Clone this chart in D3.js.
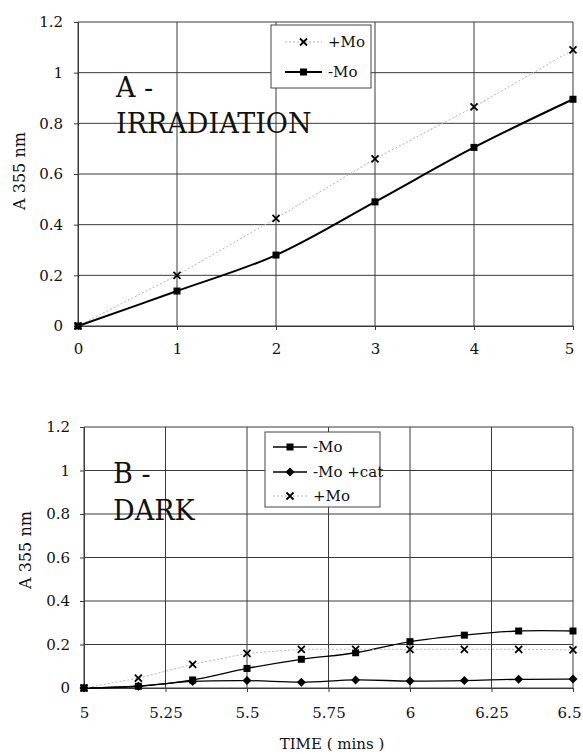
<!DOCTYPE html>
<html>
<head>
<meta charset="utf-8">
<script src="https://cdn.jsdelivr.net/npm/d3@7"></script>
<style>
  html, body { margin: 0; padding: 0; background: #fff; }
</style>
</head>
<body>
<svg id="chart" width="583" height="754"></svg>
<script>
// ---- Data ----
const topTimes = [0, 1, 2, 3, 4, 5];
const topPlusMo = [0, 0.2, 0.425, 0.66, 0.865, 1.09];
const topMinusMo = [0, 0.138, 0.28, 0.49, 0.705, 0.895];

const darkTimes = [5, 5.1667, 5.3333, 5.5, 5.6667, 5.8333, 6, 6.1667, 6.3333, 6.5];
const darkMinusMo = [0, 0.008, 0.037, 0.09, 0.132, 0.162, 0.213, 0.243, 0.262, 0.262];
const darkMinusMoCat = [0, 0.008, 0.03, 0.034, 0.027, 0.037, 0.032, 0.034, 0.04, 0.041];
const darkPlusMo = [0, 0.045, 0.109, 0.159, 0.178, 0.178, 0.178, 0.178, 0.178, 0.175];

const yTicks = [0, 0.2, 0.4, 0.6, 0.8, 1, 1.2];
const topXTicks = [0, 1, 2, 3, 4, 5];
const darkXTicks = [5, 5.25, 5.5, 5.75, 6, 6.25, 6.5];
const darkXTickLabels = ["5", "5.25", "5.5", "5.75", "6", "6.25", "6.5"];

const yLabel = "A 355 nm";
const xLabel = "TIME ( mins )";

const FONT = "DejaVu Serif";
const svg = d3.select("#chart").attr("font-family", FONT);
const GRID = "#3a3a3a";

function txt(sel) { return sel.attr("font-family", FONT).attr("fill", "#111"); }

function drawPanel(cfg) {
  const g = svg.append("g");
  const x = d3.scaleLinear().domain(cfg.xDomain).range(cfg.xRange);
  const y = d3.scaleLinear().domain([0, 1.2]).range(cfg.yRange);

  // grid
  g.append("g").selectAll("line").data(yTicks).join("line")
    .attr("x1", cfg.xRange[0]).attr("x2", cfg.xRange[1])
    .attr("y1", d => y(d)).attr("y2", d => y(d))
    .attr("stroke", GRID).attr("stroke-width", 1);
  g.append("g").selectAll("line").data(cfg.xTicks).join("line")
    .attr("x1", d => x(d)).attr("x2", d => x(d))
    .attr("y1", cfg.yRange[0]).attr("y2", cfg.yRange[1])
    .attr("stroke", GRID).attr("stroke-width", 1);

  // axes
  const ya = g.append("g").attr("transform", `translate(${cfg.xRange[0]},0)`)
    .call(d3.axisLeft(y).tickValues(yTicks).tickSize(4).tickPadding(cfg.yPad)
      .tickFormat(d => d3.format("~g")(d)));
  const xa = g.append("g").attr("transform", `translate(0,${cfg.yRange[0]})`)
    .call(d3.axisBottom(x).tickValues(cfg.xTicks).tickSize(4).tickPadding(cfg.xPad)
      .tickFormat((d, i) => cfg.xTickLabels[i]));
  [ya, xa].forEach(a => {
    a.attr("font-family", FONT).attr("font-size", 15);
    a.select(".domain").attr("stroke", GRID);
    a.selectAll(".tick line").attr("stroke", GRID);
    txt(a.selectAll(".tick text")).attr("font-size", 15);
  });
  // keep the last x label inside the page
  xa.selectAll(".tick text").filter((d, i, n) => i === n.length - 1).attr("dx", -4);

  // y label
  txt(g.append("text"))
    .attr("transform", `translate(${cfg.yLabelX},${cfg.yLabelY}) rotate(-90)`)
    .attr("text-anchor", "middle").attr("dominant-baseline", "central")
    .attr("font-size", 16).text(yLabel);

  // title
  cfg.title.forEach((t, i) => {
    txt(g.append("text")).attr("x", cfg.titleX).attr("y", cfg.titleY[i])
      .attr("font-size", 27).text(t);
  });

  // series
  cfg.series.forEach(s => {
    const pts = cfg.times.map((t, i) => [t, s.values[i]]);
    const line = d3.line().x(d => x(d[0])).y(d => y(d[1]))
      .curve(s.smooth ? d3.curveCatmullRom.alpha(0.5) : d3.curveLinear);
    g.append("path").datum(pts).attr("d", line)
      .attr("fill", "none").attr("stroke", s.stroke)
      .attr("stroke-width", s.width).attr("stroke-dasharray", s.dash || null);
    const mg = g.append("g");
    pts.forEach(p => drawMarker(mg, s.marker, x(p[0]), y(p[1])));
  });

  // legend
  const L = cfg.legend;
  g.append("rect").attr("x", L.x).attr("y", L.y).attr("width", L.w).attr("height", L.h)
    .attr("fill", "#fff").attr("stroke", "#444").attr("stroke-width", 1);
  L.items.forEach((it, i) => {
    const s = cfg.series[it];
    const yy = L.rowY[i];
    g.append("line").attr("x1", L.lineX[0]).attr("x2", L.lineX[1])
      .attr("y1", yy).attr("y2", yy).attr("stroke", s.stroke)
      .attr("stroke-width", s.width).attr("stroke-dasharray", s.dash || null);
    drawMarker(g, s.marker, (L.lineX[0] + L.lineX[1]) / 2, yy);
    txt(g.append("text")).attr("x", L.textX).attr("y", yy).attr("dy", "0.33em")
      .attr("font-size", 15).text(s.name);
  });
}

function drawMarker(g, type, cx, cy) {
  if (type === "square") {
    g.append("rect").attr("x", cx - 3.5).attr("y", cy - 3.5).attr("width", 7).attr("height", 7)
      .attr("fill", "#000");
  } else if (type === "diamond") {
    g.append("path").attr("d", `M${cx},${cy - 4.5}L${cx + 4.5},${cy}L${cx},${cy + 4.5}L${cx - 4.5},${cy}Z`)
      .attr("fill", "#000");
  } else if (type === "x") {
    g.append("path").attr("d", `M${cx - 3.5},${cy - 3.5}L${cx + 3.5},${cy + 3.5}M${cx - 3.5},${cy + 3.5}L${cx + 3.5},${cy - 3.5}`)
      .attr("stroke", "#000").attr("stroke-width", 1.8);
  }
}

// Panel A
drawPanel({
  xDomain: [0, 5], xRange: [78, 573], yRange: [326, 22],
  xTicks: topXTicks, xTickLabels: topXTicks.map(String),
  yPad: 11, xPad: 13,
  yLabelX: 19, yLabelY: 171,
  title: ["A -", "IRRADIATION"], titleX: 116, titleY: [97, 133],
  times: topTimes,
  series: [
    { name: "+Mo", values: topPlusMo, marker: "x", stroke: "#b5b5b5", width: 1, dash: "2,2", smooth: false },
    { name: "-Mo", values: topMinusMo, marker: "square", stroke: "#000", width: 2, smooth: true }
  ],
  legend: { x: 271, y: 25, w: 100, h: 63, items: [0, 1], rowY: [42, 72], lineX: [285, 322], textX: 328 }
});

// Panel B
drawPanel({
  xDomain: [5, 6.5], xRange: [84, 573], yRange: [688, 427],
  xTicks: darkXTicks, xTickLabels: darkXTickLabels,
  yPad: 10, xPad: 15,
  yLabelX: 25, yLabelY: 550,
  title: ["B -", "DARK"], titleX: 113, titleY: [483, 520],
  times: darkTimes,
  series: [
    { name: "-Mo", values: darkMinusMo, marker: "square", stroke: "#000", width: 1.3, smooth: true },
    { name: "-Mo +cat", values: darkMinusMoCat, marker: "diamond", stroke: "#000", width: 1.3, smooth: true },
    { name: "+Mo", values: darkPlusMo, marker: "x", stroke: "#b5b5b5", width: 1, dash: "2,2", smooth: false }
  ],
  legend: { x: 265, y: 432, w: 115, h: 75, items: [0, 1, 2], rowY: [447, 472, 496], lineX: [273, 307], textX: 313 }
});

// x axis title
txt(svg.append("text")).attr("x", 332).attr("y", 749).attr("text-anchor", "middle")
  .attr("font-size", 15).text(xLabel);
</script>
</body>
</html>
